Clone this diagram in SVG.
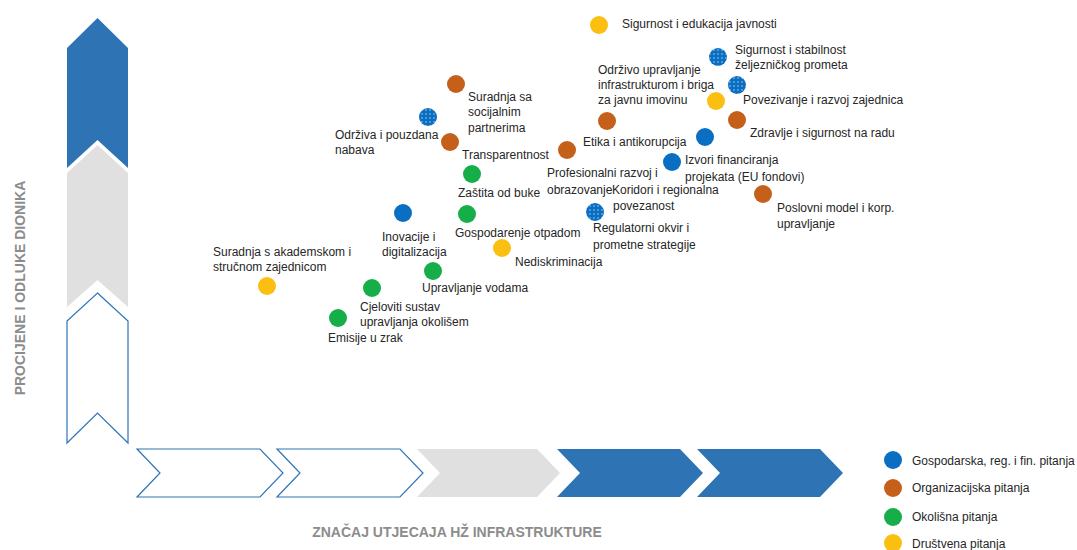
<svg xmlns="http://www.w3.org/2000/svg" width="1077" height="550" viewBox="0 0 1077 550">
<style>
.lbl{font-family:"Liberation Sans",Arial,sans-serif;font-size:12px;fill:#262626}
.axis{font-family:"Liberation Sans",Arial,sans-serif;font-size:14px;font-weight:bold;fill:#8c8c8c}
.blue{fill:#0A6FC2}
.orange{fill:#C5601A}
.green{fill:#16AE48}
.yellow{fill:#FBBF12}
.dotted{fill:url(#dots)}
.arrB{fill:#2E74B5}
.arrG{fill:#E0E0E0}
.arrO{fill:#ffffff;stroke:#2E74B5;stroke-width:1.2}
</style>
<defs>
<pattern id="dots" patternUnits="userSpaceOnUse" width="4" height="4">
<rect width="4" height="4" fill="#0A6FC2"/>
<circle cx="2" cy="2" r="0.7" fill="#ffffff" fill-opacity="0.75"/>
</pattern>
</defs>
<rect width="1077" height="550" fill="#ffffff"/>
<g id="axes">
<polygon class="arrB" points="97.5,18 128,48 128,168 97.5,140 67,168 67,48"/>
<polygon class="arrG" points="97.5,145 128,173 128,307 97.5,280 67,307 67,173"/>
<polygon class="arrO" points="97.5,293 128,321 128,443 97.5,413 67,443 67,321"/>
<polygon class="arrO" points="137,449 260,449 283,473 260,497 137,497 160,473"/>
<polygon class="arrO" points="277,449 400,449 423,473 400,497 277,497 300,473"/>
<polygon class="arrG" points="417,449 537,449 560,473 537,497 417,497 440,473"/>
<polygon class="arrB" points="557,449 680,449 703,473 680,497 557,497 580,473"/>
<polygon class="arrB" points="697,449 820,449 843,473 820,497 697,497 720,473"/>
<text class="axis" transform="translate(25,288) rotate(-90)" text-anchor="middle">PROCIJENE I ODLUKE DIONIKA</text>
<text class="axis" x="457" y="537" text-anchor="middle">ZNAČAJ UTJECAJA HŽ INFRASTRUKTURE</text>
</g>
<g id="connectors"></g>
<g id="n1"><circle class="yellow" cx="599" cy="25" r="9"/><text class="lbl" x="622" y="28">Sigurnost i edukacija javnosti</text></g>
<g id="n2"><circle class="dotted" cx="718" cy="57" r="9"/><text class="lbl" x="735" y="54">Sigurnost i stabilnost</text><text class="lbl" x="735" y="69">željezničkog prometa</text></g>
<g id="n3"><circle class="dotted" cx="737" cy="85" r="9"/><text class="lbl" x="598" y="74">Održivo upravljanje</text><text class="lbl" x="598" y="89">infrastrukturom i briga</text><text class="lbl" x="598" y="104">za javnu imovinu</text></g>
<g id="n4"><circle class="yellow" cx="716" cy="101" r="9"/><text class="lbl" x="743" y="104">Povezivanje i razvoj zajednica</text></g>
<g id="n5"><circle class="orange" cx="737" cy="120" r="9"/><text class="lbl" x="750" y="137">Zdravlje i sigurnost na radu</text></g>
<g id="n6"><circle class="orange" cx="607" cy="121" r="9"/><text class="lbl" x="583" y="146">Etika i antikorupcija</text></g>
<g id="n7"><circle class="blue" cx="705" cy="137" r="9"/><text class="lbl" x="685" y="164">Izvori financiranja</text><text class="lbl" x="685" y="181">projekata (EU fondovi)</text></g>
<g id="n8"><circle class="orange" cx="567" cy="150" r="9"/><text class="lbl" x="547" y="177">Profesionalni razvoj i</text><text class="lbl" x="547" y="194">obrazovanje</text></g>
<g id="n9"><circle class="blue" cx="672" cy="162" r="9"/><text class="lbl" x="612" y="194">Koridori i regionalna</text><text class="lbl" x="613" y="210">povezanost</text></g>
<g id="n10"><circle class="dotted" cx="595" cy="212" r="9"/><text class="lbl" x="593" y="232">Regulatorni okvir i</text><text class="lbl" x="593" y="249">prometne strategije</text></g>
<g id="n11"><circle class="orange" cx="763" cy="194" r="9"/><text class="lbl" x="777" y="212">Poslovni model i korp.</text><text class="lbl" x="777" y="228">upravljanje</text></g>
<g id="n12"><circle class="orange" cx="456" cy="84" r="9"/><text class="lbl" x="468" y="101">Suradnja sa</text><text class="lbl" x="468" y="116">socijalnim</text><text class="lbl" x="468" y="132">partnerima</text></g>
<g id="n13"><circle class="dotted" cx="428" cy="117" r="9"/><text class="lbl" x="335" y="139">Održiva i pouzdana</text><text class="lbl" x="335" y="154">nabava</text></g>
<g id="n14"><circle class="orange" cx="450" cy="142" r="9"/><text class="lbl" x="462" y="159">Transparentnost</text></g>
<g id="n15"><circle class="green" cx="472" cy="174" r="9"/><text class="lbl" x="458" y="197">Zaštita od buke</text></g>
<g id="n16"><circle class="blue" cx="403" cy="213" r="9"/><text class="lbl" x="382" y="241">Inovacije i</text><text class="lbl" x="382" y="256">digitalizacija</text></g>
<g id="n17"><circle class="green" cx="467" cy="214" r="9"/><text class="lbl" x="455" y="237">Gospodarenje otpadom</text></g>
<g id="n18"><circle class="yellow" cx="502" cy="248" r="9"/><text class="lbl" x="515" y="266">Nediskriminacija</text></g>
<g id="n19"><circle class="yellow" cx="267" cy="286" r="9"/><text class="lbl" x="213" y="256">Suradnja s akademskom i</text><text class="lbl" x="213" y="271">stručnom zajednicom</text></g>
<g id="n20"><circle class="green" cx="433" cy="271" r="9"/><text class="lbl" x="422" y="292">Upravljanje vodama</text></g>
<g id="n21"><circle class="green" cx="372" cy="288" r="9"/><text class="lbl" x="360" y="311">Cjeloviti sustav</text><text class="lbl" x="360" y="326">upravljanja okolišem</text></g>
<g id="n22"><circle class="green" cx="338" cy="318" r="9"/><text class="lbl" x="328" y="342">Emisije u zrak</text></g>
<g id="legend">
<circle class="blue" cx="893" cy="460" r="9"/><text class="lbl" x="912" y="465">Gospodarska, reg. i fin. pitanja</text>
<circle class="orange" cx="893" cy="488" r="9"/><text class="lbl" x="912" y="492">Organizacijska pitanja</text>
<circle class="green" cx="893" cy="517" r="9"/><text class="lbl" x="912" y="521">Okolišna pitanja</text>
<circle class="yellow" cx="893" cy="543" r="9"/><text class="lbl" x="912" y="548">Društvena pitanja</text>
</g>
</svg>
